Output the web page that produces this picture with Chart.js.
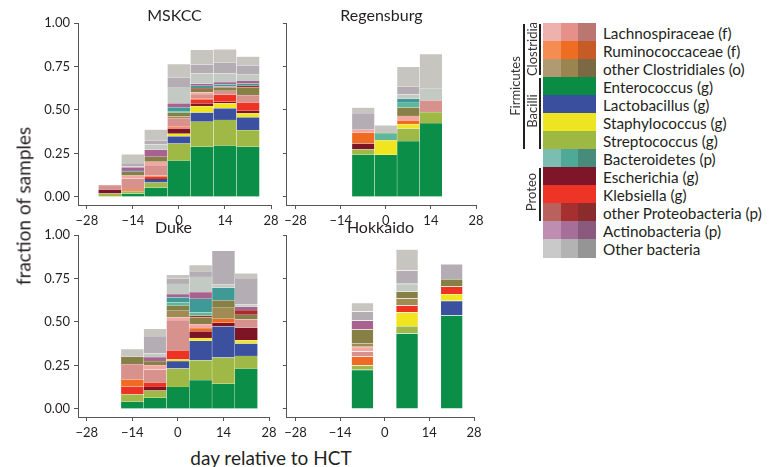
<!DOCTYPE html>
<html>
<head>
<meta charset="utf-8">
<script src="https://cdn.jsdelivr.net/npm/chart.js@4"></script>
<style>
  html, body { margin: 0; padding: 0; background: #fff; }
  body { width: 777px; height: 467px; position: relative; overflow: hidden; font-family: Lato, sans-serif; color: #231f20; }
  .panel { position: absolute; }
  .axis-title { position: absolute; font-size: 19px; white-space: nowrap; transform: translate(-50%, -50%); }
  .legend-row { position: absolute; height: 18px; }
  .legend-label { position: absolute; font-size: 15.3px; line-height: 18px; white-space: nowrap; }
  .group-label { position: absolute; font-size: 13px; white-space: nowrap; color: #333; transform: translate(-50%, -50%) rotate(-90deg); }
  .group-line { position: absolute; width: 1.5px; background: #231f20; }
</style>
</head>
<body>
<div class="panel" style="left:0;top:0"><canvas id="mskcc" width="290" height="232"></canvas></div>
<div class="panel" style="left:280px;top:0"><canvas id="regensburg" width="210" height="232"></canvas></div>
<div class="panel" style="left:0;top:212px"><canvas id="duke" width="290" height="232"></canvas></div>
<div class="panel" style="left:280px;top:212px"><canvas id="hokkaido" width="210" height="232"></canvas></div>
<div class="axis-title" style="left:23px;top:206px;transform:translate(-50%,-50%) rotate(-90deg)">fraction of samples</div>
<div class="axis-title" style="left:271px;top:457px">day relative to HCT</div>
<div id="legend"></div>
<script>
// bins are one week wide, centred on the day shown
const binWidth = 7;
const xTicks = [-28, -14, 0, 14, 28];
const yTicks = [0, 0.25, 0.5, 0.75, 1];

// MSKCC
const mskccDays = [-21, -14, -7, 0, 7, 14, 21];
const mskccEnterococcus = [0, 0.02, 0.054, 0.209, 0.289, 0.295, 0.289];
const mskccStreptococcus = [0.02, 0.012, 0.029, 0.098, 0.144, 0.148, 0.096];
const mskccLactobacillus = [0, 0, 0.015, 0.042, 0.052, 0.067, 0.073];
const mskccStaphylococcus = [0, 0, 0, 0.015, 0.038, 0.029, 0.023];
const mskccEscherichia = [0.022, 0, 0.011, 0.029, 0.015, 0.008, 0.015];
const mskccKlebsiella = [0, 0.004, 0.008, 0.008, 0.023, 0.04, 0.046];
const mskccRumino = [0, 0.01, 0.006, 0.005, 0.006, 0, 0];
const mskccLachno = [0.027, 0.06, 0.06, 0.048, 0.025, 0.023, 0.044];
const mskccLachnoLight = [0, 0.017, 0.02, 0, 0.01, 0, 0];
const mskccClostTan = [0, 0, 0, 0.01, 0, 0, 0];
const mskccClost = [0, 0.022, 0.028, 0.02, 0.019, 0.019, 0.044];
const mskccProteo = [0, 0, 0, 0, 0.005, 0.006, 0.01];
const mskccBacteroLight = [0, 0, 0, 0.01, 0, 0, 0];
const mskccBactero = [0, 0.005, 0, 0.021, 0.013, 0.013, 0.012];
const mskccActino = [0, 0.02, 0.042, 0.023, 0.012, 0.013, 0.015];
const mskccOtherGreen = [0, 0.005, 0.03, 0.09, 0.06, 0.05, 0.04];
const mskccOtherPurple = [0, 0.02, 0.023, 0.06, 0.05, 0.06, 0.05];
const mskccOtherLight = [0, 0.05, 0.061, 0.076, 0.085, 0.078, 0.05];

// Regensburg
const regDays = [-7, 0, 7, 14];
const regEnterococcus = [0.243, 0.243, 0.322, 0.425];
const regStreptococcus = [0.031, 0, 0.071, 0.063];
const regStaphylococcus = [0, 0.082, 0.025, 0];
const regEscherichia = [0.033, 0, 0, 0];
const regRumino = [0.063, 0, 0.023, 0];
const regLachno = [0, 0, 0, 0.067];
const regLachnoLight = [0.017, 0, 0.025, 0];
const regClost = [0, 0, 0.048, 0];
const regBacteroLight = [0, 0.042, 0.027, 0];
const regBactero = [0, 0, 0.023, 0];
const regOtherGreen = [0, 0, 0.025, 0.067];
const regOtherPurple = [0.096, 0, 0.044, 0];
const regOtherLight = [0.031, 0.045, 0.115, 0.2];

// Duke
const dukeDays = [-14, -7, 0, 7, 14, 21];
const dukeEnterococcus = [0.041, 0.064, 0.127, 0.166, 0.145, 0.232];
const dukeStreptococcus = [0.044, 0.042, 0.106, 0.114, 0.151, 0.073];
const dukeLactobacillus = [0, 0, 0.042, 0.112, 0.178, 0.071];
const dukeStaphylococcus = [0, 0, 0.01, 0.015, 0, 0.019];
const dukeEscherichia = [0, 0.021, 0, 0.039, 0.021, 0.073];
const dukeKlebsiella = [0.044, 0.023, 0.052, 0, 0, 0];
const dukeRumino = [0.042, 0, 0, 0.019, 0.023, 0];
const dukeLachno = [0.087, 0.077, 0.174, 0, 0, 0.048];
const dukeLachnoLight = [0, 0.025, 0.015, 0.023, 0, 0];
const dukeClostTan = [0, 0, 0.039, 0, 0.064, 0];
const dukeClost = [0.042, 0.023, 0.029, 0.039, 0.042, 0.025];
const dukeProteo = [0, 0, 0, 0.01, 0, 0.027];
const dukeBacteroLight = [0, 0, 0.019, 0.019, 0, 0];
const dukeBactero = [0, 0, 0.029, 0.077, 0.073, 0];
const dukeActino = [0, 0.023, 0.019, 0.039, 0, 0.019];
const dukeOtherGreen = [0, 0.021, 0.058, 0.087, 0.019, 0.015];
const dukeOtherPurple = [0, 0.1, 0.029, 0.029, 0.193, 0.151];
const dukeOtherLight = [0.044, 0.042, 0.023, 0.039, 0, 0.027];

// Hokkaido
const hokDays = [-7, 7, 21];
const hokEnterococcus = [0.225, 0.436, 0.539];
const hokStreptococcus = [0.027, 0.041, 0];
const hokLactobacillus = [0, 0, 0.083];
const hokStaphylococcus = [0, 0.079, 0.039];
const hokKlebsiella = [0, 0.039, 0.043];
const hokRumino = [0.05, 0, 0];
const hokLachno = [0.029, 0, 0];
const hokLachnoLight = [0.027, 0, 0];
const hokClostTan = [0.021, 0.041, 0];
const hokClost = [0.078, 0.041, 0.043];
const hokActino = [0.052, 0, 0];
const hokOtherGreen = [0, 0.043, 0];
const hokOtherPurple = [0.052, 0.078, 0.087];
const hokOtherLight = [0.05, 0.12, 0];

// legend
const legendNames = ['Lachnospiraceae (f)', 'Ruminococcaceae (f)', 'other Clostridiales (o)',
  'Enterococcus (g)', 'Lactobacillus (g)', 'Staphylococcus (g)', 'Streptococcus (g)',
  'Bacteroidetes (p)', 'Escherichia (g)', 'Klebsiella (g)', 'other Proteobacteria (p)',
  'Actinobacteria (p)', 'Other bacteria'];

// stacking order, bottom to top
const series = [
  { key: 'entero', color: '#0b8e47' },
  { key: 'strep', color: '#a0b846' },
  { key: 'lacto', color: '#3b51a0' },
  { key: 'staph', color: '#f0e51e' },
  { key: 'esch', color: '#7e1527' },
  { key: 'kleb', color: '#ee3324' },
  { key: 'rumino', color: '#ef6a22' },
  { key: 'lachno', color: '#d8928d' },
  { key: 'lachnoLight', color: '#f2a7a2' },
  { key: 'clostTan', color: '#a08b53' },
  { key: 'clost', color: '#868047' },
  { key: 'proteo', color: '#a82d2d' },
  { key: 'bacteroLight', color: '#5fb79a' },
  { key: 'bactero', color: '#3f9996' },
  { key: 'actino', color: '#a8628f' },
  { key: 'otherGreen', color: '#c2cac3' },
  { key: 'otherPurple', color: '#b4aeb4' },
  { key: 'otherLight', color: '#c6c5c0' }
];

const legendShades = [
  ['#edb1ae', '#e6908c', '#ba7772'],
  ['#f58d52', '#ef6d22', '#c75b25'],
  ['#b09a72', '#9a844f', '#7b6943'],
  ['#0b8c45'],
  ['#3a4f9e'],
  ['#efe422'],
  ['#9db944'],
  ['#7cbdb1', '#4fa997', '#478b7b'],
  ['#7e1528'],
  ['#ee3427'],
  ['#b9625d', '#a63030', '#8a2c2c'],
  ['#bd8eb0', '#a66f99', '#8a5a7e'],
  ['#c9c9c9', '#b3b3b3', '#959595']
];

Chart.defaults.font.family = 'Lato, sans-serif';
Chart.defaults.color = '#231f20';

const titlePlugin = {
  id: 'panelTitle',
  afterDraw(chart, args, opts) {
    const { ctx, chartArea } = chart;
    ctx.save();
    ctx.font = '16px Lato, sans-serif';
    ctx.fillStyle = '#231f20';
    ctx.textAlign = 'center';
    ctx.textBaseline = 'middle';
    ctx.fillText(opts.text, (chartArea.left + chartArea.right) / 2, 16);
    ctx.restore();
  }
};

function makePanel(id, title, days, values, axisWidth, padRight, showY) {
  const gaps = days.slice(1).map((d, i) => d - days[i]);
  const minGap = Math.min(...gaps);
  const datasets = series.filter(s => values[s.key]).map(s => ({
    label: s.key,
    data: days.map((d, i) => ({ x: d, y: values[s.key][i] || null })),
    backgroundColor: s.color,
    borderColor: 'rgba(255,255,255,0.35)',
    borderWidth: 0.5,
    barPercentage: 1,
    categoryPercentage: binWidth / minGap
  }));

  const axisGrid = { drawOnChartArea: false, drawTicks: true, tickLength: 4, color: '#555', offset: false };
  const axisBorder = { display: true, color: '#555', width: 1 };

  new Chart(document.getElementById(id), {
    type: 'bar',
    data: { datasets },
    options: {
      responsive: false,
      animation: false,
      devicePixelRatio: 1,
      layout: { padding: { left: 0, right: padRight, top: 23, bottom: 0 } },
      plugins: {
        legend: { display: false },
        tooltip: { enabled: false },
        panelTitle: { text: title }
      },
      scales: {
        x: {
          type: 'linear',
          stacked: true,
          offset: false,
          min: -30.7,
          max: 28,
          afterBuildTicks: s => { s.ticks = xTicks.map(v => ({ value: v })); },
          afterFit: s => { s.height = 27; },
          ticks: {
            font: { size: 13 },
            padding: 4,
            maxRotation: 0,
            autoSkip: false,
            callback: v => String(v).replace('-', '\u2212')
          },
          grid: axisGrid,
          border: axisBorder
        },
        y: {
          stacked: true,
          min: -0.046,
          max: 1,
          afterBuildTicks: s => { s.ticks = yTicks.map(v => ({ value: v })); },
          afterFit: s => { s.width = axisWidth; },
          ticks: {
            font: { size: 13 },
            padding: 4,
            callback: v => showY ? v.toFixed(2) : ''
          },
          grid: axisGrid,
          border: axisBorder
        }
      }
    },
    plugins: [titlePlugin]
  });
}

makePanel('mskcc', 'MSKCC', mskccDays, {
  entero: mskccEnterococcus, strep: mskccStreptococcus, lacto: mskccLactobacillus,
  staph: mskccStaphylococcus, esch: mskccEscherichia, kleb: mskccKlebsiella,
  rumino: mskccRumino, lachno: mskccLachno, lachnoLight: mskccLachnoLight,
  clostTan: mskccClostTan, clost: mskccClost, proteo: mskccProteo,
  bacteroLight: mskccBacteroLight, bactero: mskccBactero, actino: mskccActino,
  otherGreen: mskccOtherGreen, otherPurple: mskccOtherPurple, otherLight: mskccOtherLight
}, 78, 19, true);

makePanel('regensburg', 'Regensburg', regDays, {
  entero: regEnterococcus, strep: regStreptococcus, staph: regStaphylococcus,
  esch: regEscherichia, rumino: regRumino, lachno: regLachno, lachnoLight: regLachnoLight,
  clost: regClost, bacteroLight: regBacteroLight, bactero: regBactero,
  otherGreen: regOtherGreen, otherPurple: regOtherPurple, otherLight: regOtherLight
}, 6, 14, false);

makePanel('duke', 'Duke', dukeDays, {
  entero: dukeEnterococcus, strep: dukeStreptococcus, lacto: dukeLactobacillus,
  staph: dukeStaphylococcus, esch: dukeEscherichia, kleb: dukeKlebsiella,
  rumino: dukeRumino, lachno: dukeLachno, lachnoLight: dukeLachnoLight,
  clostTan: dukeClostTan, clost: dukeClost, proteo: dukeProteo,
  bacteroLight: dukeBacteroLight, bactero: dukeBactero, actino: dukeActino,
  otherGreen: dukeOtherGreen, otherPurple: dukeOtherPurple, otherLight: dukeOtherLight
}, 78, 21, true);

makePanel('hokkaido', 'Hokkaido', hokDays, {
  entero: hokEnterococcus, strep: hokStreptococcus, lacto: hokLactobacillus,
  staph: hokStaphylococcus, kleb: hokKlebsiella, rumino: hokRumino,
  lachno: hokLachno, lachnoLight: hokLachnoLight, clostTan: hokClostTan, clost: hokClost,
  actino: hokActino, otherGreen: hokOtherGreen, otherPurple: hokOtherPurple, otherLight: hokOtherLight
}, 4, 16, false);

// legend: swatches + names
const legend = document.getElementById('legend');
const rowTop = 23.3, rowH = 18, swLeft = 543.3, swWidth = 52.7;
legendNames.forEach((name, i) => {
  const shades = legendShades[i];
  shades.forEach((c, j) => {
    const sw = document.createElement('div');
    sw.style.cssText = 'position:absolute;left:' + (swLeft + j * swWidth / shades.length) + 'px;top:' +
      (rowTop + i * rowH) + 'px;width:' + (swWidth / shades.length + 0.3) + 'px;height:' + (rowH + 0.3) + 'px;background:' + c;
    legend.appendChild(sw);
  });
  const lab = document.createElement('div');
  lab.className = 'legend-label';
  lab.style.left = '603px';
  lab.style.top = (rowTop + i * rowH + 0.5) + 'px';
  lab.textContent = name;
  legend.appendChild(lab);
});

const groups = [
  { text: 'Firmicutes', x: 515, y: 86, lineX: 523, top: 24, bottom: 149 },
  { text: 'Clostridia', x: 532, y: 49, lineX: 539, top: 24, bottom: 75 },
  { text: 'Bacilli', x: 532, y: 111, lineX: 539, top: 78, bottom: 149 },
  { text: 'Proteo', x: 531, y: 192, lineX: 539, top: 168, bottom: 221 }
];
groups.forEach(g => {
  const t = document.createElement('div');
  t.className = 'group-label';
  t.style.left = g.x + 'px';
  t.style.top = g.y + 'px';
  t.textContent = g.text;
  legend.appendChild(t);
  const l = document.createElement('div');
  l.className = 'group-line';
  l.style.left = g.lineX + 'px';
  l.style.top = g.top + 'px';
  l.style.height = (g.bottom - g.top) + 'px';
  legend.appendChild(l);
});
</script>
</body>
</html>
